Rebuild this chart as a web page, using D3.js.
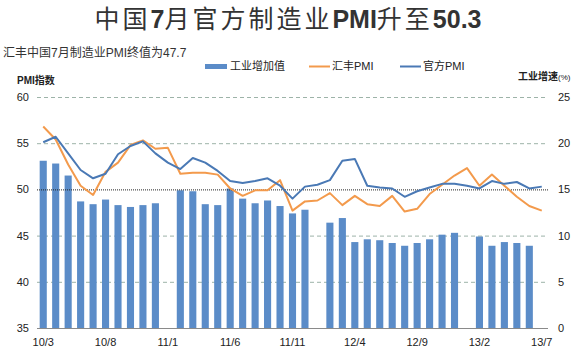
<!DOCTYPE html>
<html>
<head>
<meta charset="utf-8">
<script src="https://cdn.jsdelivr.net/npm/d3@7"></script>
<style>
  body { margin: 0; background: #fff; }
  text { font-family: "Liberation Sans", "Noto Sans CJK SC", sans-serif; }
</style>
</head>
<body>
<div id="chart"></div>
<script>
// Month labels, 2010/3 .. 2013/7
const months = [
    "10/3","10/4","10/5","10/6","10/7","10/8","10/9","10/10","10/11","10/12",
    "11/1","11/2","11/3","11/4","11/5","11/6","11/7","11/8","11/9","11/10","11/11","11/12",
    "12/1","12/2","12/3","12/4","12/5","12/6","12/7","12/8","12/9","12/10","12/11","12/12",
    "13/1","13/2","13/3","13/4","13/5","13/6","13/7"
];
const tickMonths = ["10/3","10/8","11/1","11/6","11/11","12/4","12/9","13/2","13/7"];

// 工业增加值 (%), right axis; null = not published
const ipGrowth = [
    18.1, 17.8, 16.5, 13.7, 13.4, 13.9, 13.3, 13.1, 13.3, 13.5,
    null, 14.9, 14.8, 13.4, 13.3, 15.1, 14.0, 13.5, 13.8, 13.2, 12.4, 12.8,
    null, 11.4, 11.9, 9.3, 9.6, 9.5, 9.2, 8.9, 9.2, 9.6, 10.1, 10.3,
    null, 9.9, 8.9, 9.3, 9.2, 8.9, null
];

// 汇丰PMI
const hsbcPmi = [
    56.8, 55.4, 52.7, 50.4, 49.4, 51.9, 52.9, 54.8, 55.3, 54.4,
    54.5, 51.7, 51.8, 51.8, 51.6, 50.1, 49.3, 49.9, 49.9, 51.0, 47.7, 48.7,
    48.8, 49.6, 48.3, 49.3, 48.4, 48.2, 49.3, 47.6, 47.9, 49.5, 50.5, 51.5,
    52.3, 50.4, 51.6, 50.4, 49.2, 48.2, 47.7
];

// 官方PMI
const officialPmi = [
    55.1, 55.7, 53.9, 52.1, 51.2, 51.7, 53.8, 54.7, 55.2, 53.9,
    52.9, 52.2, 53.4, 52.9, 52.0, 50.9, 50.7, 50.9, 51.2, 50.4, 49.0, 50.3,
    50.5, 51.0, 53.1, 53.3, 50.4, 50.2, 50.1, 49.2, 49.8, 50.2, 50.6, 50.6,
    50.4, 50.1, 50.9, 50.6, 50.8, 50.1, 50.3
];

const leftTicks = [35, 40, 45, 50, 55, 60];
const rightTicks = [0, 5, 10, 15, 20, 25];

const width = 581, height = 351;
const plot = { left: 37, right: 548, top: 97, bottom: 328 };

const barColor = '#5b8cc8';
const hsbcColor = '#f39a4c';
const offColor = '#4a79b5';

const svg = d3.select('#chart')
    .append('svg')
    .attr('width', width)
    .attr('height', height);

const x = d3.scaleBand()
    .domain(months)
    .range([plot.left, plot.right])
    .paddingInner(0.43)
    .paddingOuter(0.215);

const yL = d3.scaleLinear().domain([35, 60]).range([plot.bottom, plot.top]);
const yR = d3.scaleLinear().domain([0, 25]).range([plot.bottom, plot.top]);

const cx = m => x(m) + x.bandwidth() / 2;

// Title: CJK regular, latin/digits bold
const title = svg.append('text')
    .attr('x', 288)
    .attr('y', 28)
    .attr('text-anchor', 'middle')
    .style('font-size', '25px')
    .style('fill', '#333');
[['中国', 400], ['7', 700], ['月官方制造业', 400], ['PMI', 700], ['升至', 400], ['50.3', 700]]
    .forEach(([t, w]) => {
        title.append('tspan')
            .text(t)
            .style('font-weight', w)
            .style('letter-spacing', w === 700 ? '0px' : '3px')
            .style('font-family', w === 700 ? '"Liberation Sans", Arial, sans-serif' : '"Noto Sans CJK SC", sans-serif');
    });

svg.append('text')
    .attr('x', 3)
    .attr('y', 57)
    .text('汇丰中国7月制造业PMI终值为47.7')
    .style('font-size', '12px')
    .style('fill', '#333');

// Axis titles
svg.append('text')
    .attr('x', 17)
    .attr('y', 84)
    .text('PMI指数')
    .style('font-size', '10px')
    .style('font-weight', 'bold')
    .style('fill', '#222');

const rt = svg.append('text')
    .attr('x', 518)
    .attr('y', 80)
    .style('font-size', '10px')
    .style('fill', '#222');
rt.append('tspan').text('工业增速').style('font-weight', 'bold');
rt.append('tspan').text('(%)').style('font-size', '8px');

// Legend
const lg = svg.append('g').attr('class', 'legend').style('font-size', '11px');
lg.append('rect').attr('x', 205).attr('y', 64).attr('width', 22).attr('height', 5).attr('fill', barColor);
lg.append('text').attr('x', 230).attr('y', 70).text('工业增加值').style('fill', '#222');
lg.append('line').attr('x1', 309).attr('x2', 330).attr('y1', 66.5).attr('y2', 66.5)
    .attr('stroke', hsbcColor).attr('stroke-width', 2);
lg.append('text').attr('x', 332).attr('y', 70).text('汇丰PMI').style('fill', '#222');
lg.append('line').attr('x1', 400).attr('x2', 421).attr('y1', 66.5).attr('y2', 66.5)
    .attr('stroke', offColor).attr('stroke-width', 2);
lg.append('text').attr('x', 423).attr('y', 70).text('官方PMI').style('fill', '#222');

// Gridlines
svg.append('g')
    .selectAll('line')
    .data(leftTicks.filter(d => d !== 35 && d !== 50))
    .join('line')
    .attr('x1', plot.left)
    .attr('x2', plot.right)
    .attr('y1', d => yL(d) + 0.5)
    .attr('y2', d => yL(d) + 0.5)
    .attr('stroke', '#9db3a8')
    .attr('stroke-dasharray', '4,3');

// Bars
svg.append('g')
    .selectAll('rect')
    .data(months.map((m, i) => ({ m, v: ipGrowth[i] })).filter(d => d.v != null))
    .join('rect')
    .attr('x', d => x(d.m))
    .attr('width', x.bandwidth())
    .attr('y', d => yR(d.v))
    .attr('height', d => yR(0) - yR(d.v))
    .attr('fill', barColor);

// 50 reference line
svg.append('line')
    .attr('x1', plot.left)
    .attr('x2', plot.right)
    .attr('y1', yL(50) + 0.5)
    .attr('y2', yL(50) + 0.5)
    .attr('stroke', '#222')
    .attr('stroke-dasharray', '1,1');

// Bottom axis line
svg.append('line')
    .attr('x1', plot.left)
    .attr('x2', plot.right)
    .attr('y1', plot.bottom + 0.5)
    .attr('y2', plot.bottom + 0.5)
    .attr('stroke', '#8a8a8a');

// Lines
const line = d3.line()
    .x((d, i) => cx(months[i]))
    .y(d => yL(d));

svg.append('path')
    .datum(hsbcPmi)
    .attr('d', line)
    .attr('fill', 'none')
    .attr('stroke', hsbcColor)
    .attr('stroke-width', 2)
    .attr('stroke-linejoin', 'round');

svg.append('path')
    .datum(officialPmi)
    .attr('d', line)
    .attr('fill', 'none')
    .attr('stroke', offColor)
    .attr('stroke-width', 2)
    .attr('stroke-linejoin', 'round');

// Axes
const leftAxis = d3.axisLeft(yL).tickValues(leftTicks).tickSize(0).tickPadding(0);
svg.append('g')
    .attr('transform', `translate(${plot.left - 8},0)`)
    .call(leftAxis)
    .call(g => g.select('.domain').remove())
    .call(g => g.selectAll('text').style('font-size', '11px').style('fill', '#222')
        .style('font-family', '"Liberation Sans", sans-serif'));

const rightAxis = d3.axisRight(yR).tickValues(rightTicks).tickSize(0).tickPadding(0);
svg.append('g')
    .attr('transform', `translate(${plot.right + 10},0)`)
    .call(rightAxis)
    .call(g => g.select('.domain').remove())
    .call(g => g.selectAll('text').style('font-size', '11px').style('fill', '#222')
        .style('font-family', '"Liberation Sans", sans-serif'));

const bottomAxis = d3.axisBottom(x).tickValues(tickMonths).tickSize(0).tickPadding(10);
svg.append('g')
    .attr('transform', `translate(0,${plot.bottom})`)
    .call(bottomAxis)
    .call(g => g.select('.domain').remove())
    .call(g => g.selectAll('text').style('font-size', '11px').style('fill', '#222')
        .style('font-family', '"Liberation Sans", sans-serif'));
</script>
</body>
</html>
